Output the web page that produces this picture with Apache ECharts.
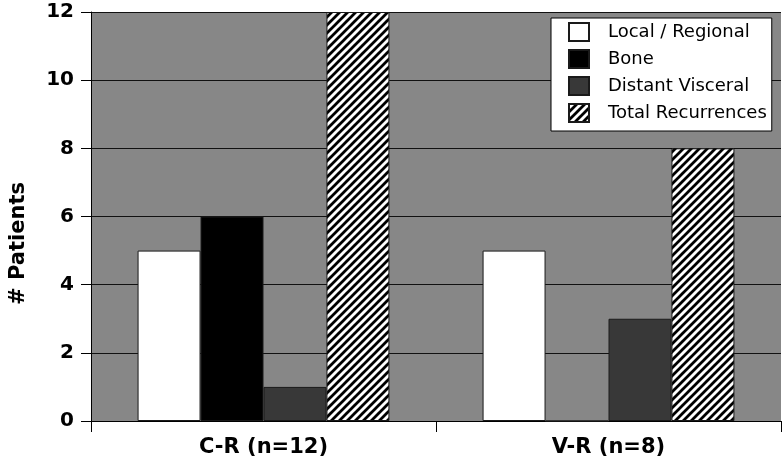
<!DOCTYPE html>
<html>
<head>
<meta charset="utf-8">
<script src="https://cdn.jsdelivr.net/npm/echarts@6/dist/echarts.min.js"></script>
<style>
html,body{margin:0;padding:0;background:#fff;}
#chart{width:783px;height:465px;}
</style>
</head>
<body>
<div id="chart"></div>
<script>
var categories = ['C-R (n=12)', 'V-R (n=8)'];
var seriesNames = ['Local / Regional', 'Bone', 'Distant Visceral', 'Total Recurrences'];
var localRegional = [5, 5];
var bone = [6, 0];
var distantVisceral = [1, 3];
var totalRecurrences = [12, 8];
var yTicks = [0, 2, 4, 6, 8, 10, 12];

function hatchPattern() {
  var c = document.createElement('canvas');
  var s = 8;
  c.width = s; c.height = s;
  var ctx = c.getContext('2d');
  ctx.fillStyle = '#ffffff';
  ctx.fillRect(0, 0, s, s);
  ctx.strokeStyle = '#000000';
  ctx.lineWidth = 2.8;
  ctx.beginPath();
  for (var k = -1; k <= 1; k++) {
    ctx.moveTo(k * s - 1, s + 1);
    ctx.lineTo(k * s + s + 1, -1);
  }
  ctx.stroke();
  return c;
}

var chart = echarts.init(document.getElementById('chart'));
var font = '"DejaVu Sans", "Liberation Sans", Arial, sans-serif';
var border = { borderColor: '#1a1a1a', borderWidth: 1 };

chart.setOption({
  animation: false,
  textStyle: { fontFamily: font },
  grid: {
    left: 87, right: 2, top: 12, bottom: 44,
    show: true, backgroundColor: '#878787', borderWidth: 0
  },
  legend: {
    orient: 'vertical',
    left: 551, top: 18,
    backgroundColor: '#ffffff',
    borderColor: '#000000', borderWidth: 1,
    padding: [4, 5, 8, 17],
    itemWidth: 20, itemHeight: 18, itemGap: 7,
    icon: 'rect',
    data: seriesNames,
    textStyle: { fontSize: 18, lineHeight: 18, color: '#000', fontFamily: font, padding: [0, 0, 0, 14] }
  },
  xAxis: {
    type: 'category',
    data: categories,
    axisLine: { lineStyle: { color: '#000', width: 1 } },
    axisTick: { show: true, length: 11, lineStyle: { color: '#000' } },
    axisLabel: { fontSize: 21, fontWeight: 'bold', color: '#000', margin: 16, fontFamily: font }
  },
  yAxis: {
    type: 'value',
    min: yTicks[0], max: yTicks[yTicks.length - 1], interval: 2,
    name: '# Patients',
    nameLocation: 'middle',
    nameGap: 62,
    nameTextStyle: { fontSize: 21, fontWeight: 'bold', color: '#000', fontFamily: font, padding: [0, 54, 0, 0] },
    axisLine: { show: true, lineStyle: { color: '#000', width: 1 } },
    axisTick: { show: true, length: 10, lineStyle: { color: '#000' } },
    axisLabel: { fontSize: 20, fontWeight: 'bold', color: '#000', margin: 17, fontFamily: font },
    splitLine: { show: true, lineStyle: { color: '#111', width: 1 } }
  },
  series: [
    { name: seriesNames[0], type: 'bar', data: localRegional, barGap: '0%', barCategoryGap: '27%',
      itemStyle: Object.assign({ color: '#ffffff' }, border) },
    { name: seriesNames[1], type: 'bar', data: bone,
      itemStyle: Object.assign({ color: '#000000' }, border) },
    { name: seriesNames[2], type: 'bar', data: distantVisceral,
      itemStyle: Object.assign({ color: '#383838' }, border) },
    { name: seriesNames[3], type: 'bar', data: totalRecurrences,
      itemStyle: Object.assign({ color: { image: hatchPattern(), repeat: 'repeat' } }, border) }
  ]
});
</script>
</body>
</html>
